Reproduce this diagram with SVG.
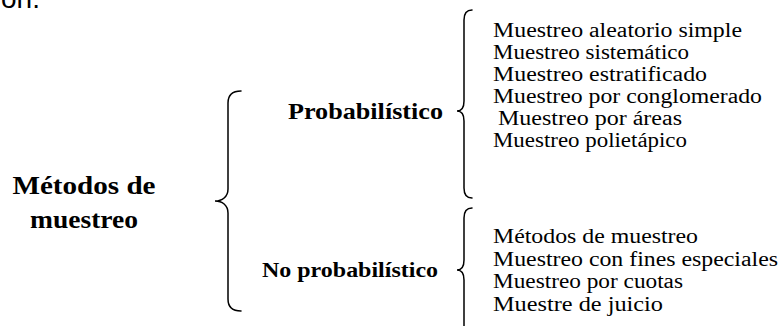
<svg xmlns="http://www.w3.org/2000/svg" width="781" height="326" viewBox="0 0 781 326">
<style>
.brace{fill:none;stroke:#000;stroke-width:1.5;stroke-linecap:round}
.item{font-family:"Liberation Serif","Times New Roman",serif;font-size:20.5px;fill:#000}
.bold{font-family:"Liberation Serif","Times New Roman",serif;font-weight:bold;fill:#000}
.frag{font-family:"Liberation Sans",Arial,sans-serif;font-size:28px;fill:#000}
</style>
<rect width="781" height="326" fill="#fff"/>
<text class="frag" x="1" y="8">ón.</text>
<g id="root">
<text class="bold" style="font-size:26px" x="84" y="194" text-anchor="middle" textLength="143" lengthAdjust="spacingAndGlyphs">Métodos de</text>
<text class="bold" style="font-size:26px" x="84" y="228" text-anchor="middle" textLength="108" lengthAdjust="spacingAndGlyphs">muestreo</text>
</g>
<g id="connectors">
<path class="brace" d="M241 91 C233 91 228 95 228 103 L228 189 C228 197 222 201 215 201 C222 201 228 205 228 213 L228 299 C228 307 233 311 241 311"/>
<path class="brace" d="M472 10 C467 10 464 13 464 20 L464 101 C464 108 461 111 457 111 C461 111 464 114 464 121 L464 188 C464 195 467 198 472 198"/>
<path class="brace" d="M472 208 C467 208 464 211 464 218 L464 260 C464 267 461 270 457 270 C461 270 464 273 464 280 L464 330"/>
</g>
<g id="probabilistico">
<text class="bold" style="font-size:23px" x="288" y="119" textLength="155" lengthAdjust="spacingAndGlyphs">Probabilístico</text>
</g>
<g id="no-probabilistico">
<text class="bold" style="font-size:21px" x="262" y="277" textLength="176" lengthAdjust="spacingAndGlyphs">No probabilístico</text>
</g>
<g id="prob-items">
<text class="item" x="493" y="37" textLength="249" lengthAdjust="spacingAndGlyphs">Muestreo aleatorio simple</text>
<text class="item" x="493" y="59" textLength="196" lengthAdjust="spacingAndGlyphs">Muestreo sistemático</text>
<text class="item" x="493" y="81" textLength="214" lengthAdjust="spacingAndGlyphs">Muestreo estratificado</text>
<text class="item" x="493" y="103" textLength="269" lengthAdjust="spacingAndGlyphs">Muestreo por conglomerado</text>
<text class="item" x="498" y="125" textLength="184" lengthAdjust="spacingAndGlyphs">Muestreo por áreas</text>
<text class="item" x="493" y="147" textLength="194" lengthAdjust="spacingAndGlyphs">Muestreo polietápico</text>
</g>
<g id="noprob-items">
<text class="item" x="493" y="243" textLength="205" lengthAdjust="spacingAndGlyphs">Métodos de muestreo</text>
<text class="item" x="493" y="265.5" textLength="285" lengthAdjust="spacingAndGlyphs">Muestreo con fines especiales</text>
<text class="item" x="493" y="288" textLength="190" lengthAdjust="spacingAndGlyphs">Muestreo por cuotas</text>
<text class="item" x="493" y="310.5" textLength="170" lengthAdjust="spacingAndGlyphs">Muestre de juicio</text>
</g>
</svg>
